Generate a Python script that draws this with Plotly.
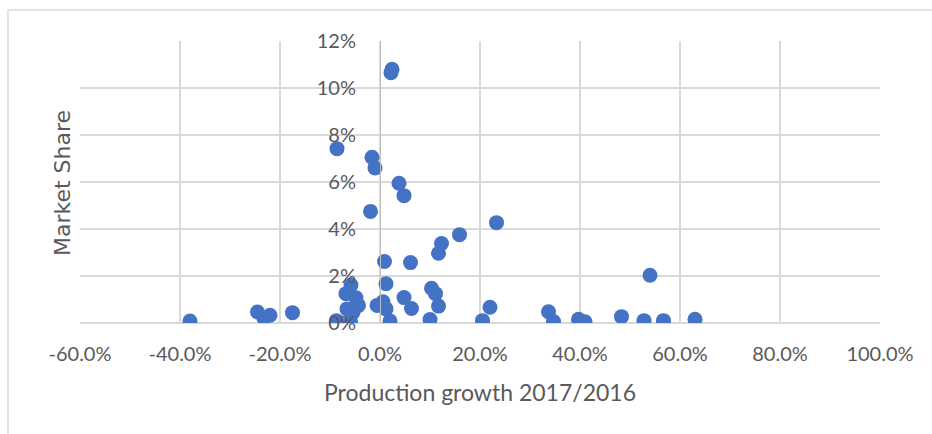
import plotly.graph_objects as go

# Production growth 2017/2016 (fraction) and market share (fraction)
growth = [0.024, 0.022, -0.086, -0.016, -0.010, 0.038, 0.048, -0.019, 0.233, 0.159,
          0.123, 0.117, 0.009, 0.061, 0.540, 0.012, -0.058, -0.068, -0.048, -0.043,
          -0.066, -0.054, -0.087, -0.059, -0.006, 0.006, 0.012, 0.020, 0.048, 0.063,
          0.103, 0.111, 0.117, 0.100, 0.205, 0.220, 0.337, 0.347, 0.397, 0.410,
          0.483, 0.528, 0.567, 0.630, -0.380, -0.245, -0.232, -0.220, -0.175]
share = [0.1080, 0.1065, 0.0742, 0.0705, 0.0660, 0.0595, 0.0542, 0.0475, 0.0427, 0.0376,
         0.0338, 0.0297, 0.0262, 0.0257, 0.0203, 0.0167, 0.0162, 0.0125, 0.0107, 0.0075,
         0.0060, 0.0045, 0.0010, 0.0005, 0.0075, 0.0090, 0.0060, 0.0008, 0.0108, 0.0062,
         0.0148, 0.0125, 0.0072, 0.0015, 0.0010, 0.0067, 0.0048, 0.0006, 0.0016, 0.0005,
         0.0027, 0.0010, 0.0010, 0.0016, 0.0008, 0.0047, 0.0020, 0.0033, 0.0044]

x_ticks = [-0.6, -0.4, -0.2, 0.0, 0.2, 0.4, 0.6, 0.8, 1.0]
x_labels = ["-60.0%", "-40.0%", "-20.0%", "0.0%", "20.0%", "40.0%", "60.0%", "80.0%", "100.0%"]
y_ticks = [0.0, 0.02, 0.04, 0.06, 0.08, 0.10, 0.12]
y_labels = ["0%", "2%", "4%", "6%", "8%", "10%", "12%"]

W, H = 932, 434
L, R, T, B = 80, 52, 41, 111
pw, ph = W - L - R, H - T - B

fig = go.Figure(go.Scatter(
    x=growth, y=share, mode="markers",
    marker=dict(size=15, color="#4472C4", line=dict(width=0)),
    hoverinfo="x+y",
))

font = dict(family="Lato, 'Open Sans', sans-serif", color="#595959")
yaxis_pos = (0 - x_ticks[0]) / (x_ticks[-1] - x_ticks[0])

fig.update_layout(
    width=W, height=H,
    margin=dict(l=L, r=R, t=T, b=B, pad=0),
    paper_bgcolor="white", plot_bgcolor="white",
    showlegend=False,
    font=dict(size=20, **font),
    xaxis=dict(
        range=[x_ticks[0], x_ticks[-1]], tickvals=x_ticks, ticktext=x_labels,
        showgrid=True, gridcolor="#d9d9d9", gridwidth=2,
        zeroline=False, showline=False, ticks="", ticklabelstandoff=17,
        title=dict(text="Production growth 2017/2016", font=dict(size=23, **font), standoff=20),
        fixedrange=True,
    ),
    yaxis=dict(
        range=[y_ticks[0], y_ticks[-1]], tickvals=y_ticks, ticktext=y_labels,
        showgrid=True, gridcolor="#d9d9d9", gridwidth=2,
        zeroline=False, showline=True, linecolor="#bfbfbf", linewidth=1,
        anchor="free", position=yaxis_pos, ticks="", ticklabelstandoff=20,
        fixedrange=True,
    ),
    annotations=[dict(
        text="Market Share", textangle=-90, xref="paper", yref="paper",
        x=(62 - L) / pw, y=(T + ph - 183) / ph,
        xanchor="center", yanchor="middle", showarrow=False,
        font=dict(family="'DejaVu Sans', sans-serif", size=22, color="#595959"),
    )],
    shapes=[
        dict(type="line", xref="paper", yref="paper", x0=0, x1=1, y0=0, y1=0,
             line=dict(color="#d9d9d9", width=2), layer="below"),
        dict(type="rect", xref="paper", yref="paper",
             x0=(8 - L) / pw, x1=(W + 20 - L) / pw,
             y0=(T + ph - (H + 20)) / ph, y1=(T + ph - 10) / ph,
             line=dict(color="#d9d9d9", width=1.5), fillcolor="rgba(0,0,0,0)", layer="below"),
    ],
)

fig.write_html("out.html")
